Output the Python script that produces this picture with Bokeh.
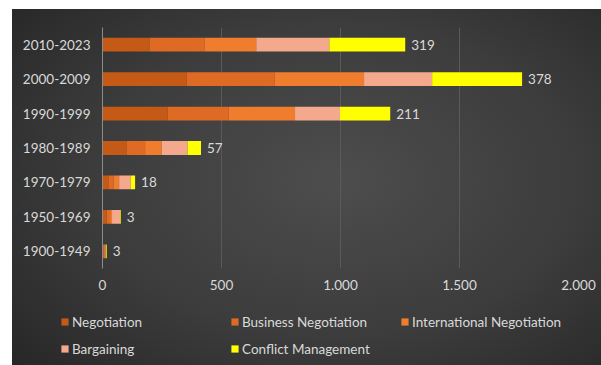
from bokeh.plotting import figure
from bokeh.layouts import column
from bokeh.models import ColumnDataSource, FactorRange, Range1d, FixedTicker, Legend, LegendItem
from bokeh.core.properties import value
from bokeh.embed import file_html
from bokeh.resources import INLINE

periods = ["1900-1949", "1950-1969", "1970-1979", "1980-1989", "1990-1999", "2000-2009", "2010-2023"]
negotiation = [3, 18, 25, 101, 274, 353, 197]
business_negotiation = [4, 14, 21, 78, 256, 371, 231]
international_negotiation = [6, 8, 24, 70, 279, 375, 218]
bargaining = [2, 34, 49, 108, 189, 286, 307]
conflict_management = [3, 3, 18, 57, 211, 378, 319]

series_names = ["Negotiation", "Business Negotiation", "International Negotiation", "Bargaining", "Conflict Management"]
series_keys = ["neg", "bus", "intl", "barg", "conf"]
colors = ["#c55a16", "#de6a24", "#f07c2e", "#f4a98c", "#ffff00"]
x_ticks = [0, 500, 1000, 1500, 2000]
x_tick_labels = ["0", "500", "1.000", "1.500", "2.000"]

FONT = "Lato"
TEXT_COLOR = "#d9d9d9"

totals = [a + b + c + d + e for a, b, c, d, e in zip(negotiation, business_negotiation,
                                                     international_negotiation, bargaining,
                                                     conflict_management)]
source = ColumnDataSource(dict(period=periods, neg=negotiation, bus=business_negotiation,
                               intl=international_negotiation, barg=bargaining,
                               conf=conflict_management))
label_source = ColumnDataSource(dict(period=periods, total=totals,
                                     label=[str(v) for v in conflict_management]))

p = figure(width=589, height=291, y_range=FactorRange(*periods), x_range=Range1d(0, 2000),
           output_backend="svg", toolbar_location=None,
           min_border_left=90, min_border_right=23, min_border_top=18, min_border_bottom=32)
p.frame_align = False
p.background_fill_alpha = 0
p.border_fill_alpha = 0
p.outline_line_color = None

renderers = p.hbar_stack(series_keys, y="period", height=0.4, color=colors, source=source,
                         line_color=None)

p.text(x="total", y="period", text="label", source=label_source, x_offset=6,
       text_baseline="middle", text_align="left", text_color=TEXT_COLOR,
       text_font=value(FONT), text_font_size="13.5px")

p.xaxis.ticker = FixedTicker(ticks=x_ticks)
p.xaxis.major_label_overrides = {t: l for t, l in zip(x_ticks, x_tick_labels)}
p.xaxis.axis_line_color = None
p.xaxis.major_tick_line_color = None
p.xaxis.minor_tick_line_color = None
p.xaxis.major_label_standoff = 5
p.yaxis.axis_line_color = "#8c8c8c"
p.yaxis.major_tick_line_color = None
p.yaxis.minor_tick_line_color = None
p.yaxis.major_label_standoff = 6
for ax in (p.xaxis, p.yaxis):
    ax.major_label_text_font = FONT
    ax.major_label_text_font_size = "13.5px"
    ax.major_label_text_color = TEXT_COLOR

p.xgrid.grid_line_color = "#5a5a5a"
p.xgrid.ticker = FixedTicker(ticks=x_ticks)
p.ygrid.grid_line_color = None

# Legend in its own strip below the chart
pl = figure(width=589, height=65, y_range=FactorRange(*periods), x_range=Range1d(0, 2000),
            output_backend="svg", toolbar_location=None,
            min_border_left=0, min_border_right=0, min_border_top=0, min_border_bottom=0)
pl.frame_align = False
pl.axis.visible = False
pl.grid.visible = False
pl.background_fill_alpha = 0
pl.border_fill_alpha = 0
pl.outline_line_color = None
swatches = pl.hbar_stack(series_keys, y="period", height=0.4, color=colors, source=source,
                         line_color=None)
for r in swatches:
    r.visible = False
legend = Legend(items=[LegendItem(label=n, renderers=[r]) for n, r in zip(series_names, swatches)],
                orientation="horizontal", ncols=3, location=(48, 7),
                glyph_width=9, glyph_height=9, label_standoff=3, label_width=150,
                label_height=19, spacing=8, padding=0, margin=0,
                background_fill_alpha=0, border_line_alpha=0,
                inactive_fill_alpha=0,
                label_text_font=FONT, label_text_font_size="13.5px", label_text_color=TEXT_COLOR)
pl.add_layout(legend)

layout = column(p, pl, spacing=0)
layout.margin = (9, 0, 0, 12)
layout.styles = {"background-image": "radial-gradient(ellipse 75% 80% at 55% 48%, #4d4d4d 0%, #3c3c3c 55%, #262626 100%)"}

open("out.html", "w").write(file_html(layout, INLINE))
